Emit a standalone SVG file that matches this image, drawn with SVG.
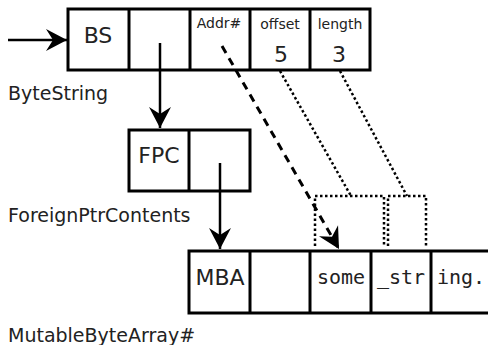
<svg xmlns="http://www.w3.org/2000/svg" width="488" height="345" viewBox="0 0 488 345">
  <style>
    .box { fill: #fff; stroke: #000; stroke-width: 3; }
    .div { stroke: #000; stroke-width: 3; }
    .lbl { font-family: "DejaVu Sans", sans-serif; font-size: 19px; fill: #222; }
    .big { font-family: "DejaVu Sans", sans-serif; font-size: 22px; fill: #222; }
    .small { font-family: "DejaVu Sans", sans-serif; font-size: 14px; fill: #222; }
    .mono { font-family: "DejaVu Sans Mono", monospace; font-size: 20px; fill: #222; }
    .arrow { stroke: #000; stroke-width: 2.5; fill: none; }
    .dash { stroke: #000; stroke-width: 3; fill: none; stroke-dasharray: 8 6; }
    .dot { stroke: #000; stroke-width: 2.5; fill: none; stroke-dasharray: 2.5 2.5; }
  </style>
  <defs>
    <marker id="head" markerUnits="userSpaceOnUse" markerWidth="24" markerHeight="24" viewBox="-22 -12 24 24" refX="0" refY="0" orient="auto">
      <path d="M0,0 L-21,-11 L-14,0 L-21,11 Z" fill="#000"/>
    </marker>
  </defs>

  <!-- ByteString record -->
  <g id="bytestring">
    <rect class="box" x="68" y="9" width="302" height="61"/>
    <line class="div" x1="129" y1="9" x2="129" y2="70"/>
    <line class="div" x1="190" y1="9" x2="190" y2="70"/>
    <line class="div" x1="250" y1="9" x2="250" y2="70"/>
    <line class="div" x1="310" y1="9" x2="310" y2="70"/>
    <text class="big" x="98" y="43" text-anchor="middle">BS</text>
    <text class="small" x="219" y="28" text-anchor="middle">Addr#</text>
    <text class="small" x="280" y="29" text-anchor="middle">offset</text>
    <text class="small" x="340" y="29" text-anchor="middle">length</text>
    <text class="big" x="281" y="62" text-anchor="middle">5</text>
    <text class="big" x="339" y="62" text-anchor="middle">3</text>
    <text class="lbl" x="8" y="100">ByteString</text>
  </g>

  <!-- ForeignPtrContents record -->
  <g id="fpc">
    <rect class="box" x="129" y="130" width="121" height="61"/>
    <line class="div" x1="189" y1="130" x2="189" y2="191"/>
    <text class="big" x="159" y="163" text-anchor="middle">FPC</text>
    <text class="lbl" x="8" y="222">ForeignPtrContents</text>
  </g>

  <!-- MutableByteArray# payload -->
  <g id="mba">
    <rect class="box" x="189" y="251" width="310" height="62"/>
    <line class="div" x1="250" y1="251" x2="250" y2="313"/>
    <line class="div" x1="310" y1="251" x2="310" y2="313"/>
    <line class="div" x1="371" y1="251" x2="371" y2="313"/>
    <line class="div" x1="431" y1="251" x2="431" y2="313"/>
    <text class="big" x="220" y="285" text-anchor="middle">MBA</text>
    <text class="mono" x="317" y="284">some</text>
    <text class="mono" x="377" y="284">_str</text>
    <text class="mono" x="437" y="284">ing.</text>
    <text class="lbl" x="8" y="342">MutableByteArray#</text>
  </g>

  <!-- connectors -->
  <g id="connectors">
    <line class="arrow" x1="8" y1="40" x2="67" y2="40" marker-end="url(#head)"/>
    <line class="arrow" x1="160" y1="43" x2="160" y2="128" marker-end="url(#head)"/>
    <line class="arrow" x1="220" y1="163" x2="220" y2="249" marker-end="url(#head)"/>
    <line class="dash" x1="222" y1="46" x2="339" y2="249" marker-end="url(#head)"/>
    <line class="dot" x1="280" y1="71" x2="351" y2="196"/>
    <line class="dot" x1="340" y1="71" x2="407" y2="196"/>
    <path class="dot" d="M315,246 V196 H384 V246"/>
    <path class="dot" d="M388,246 V196 H426 V246"/>
  </g>
</svg>
